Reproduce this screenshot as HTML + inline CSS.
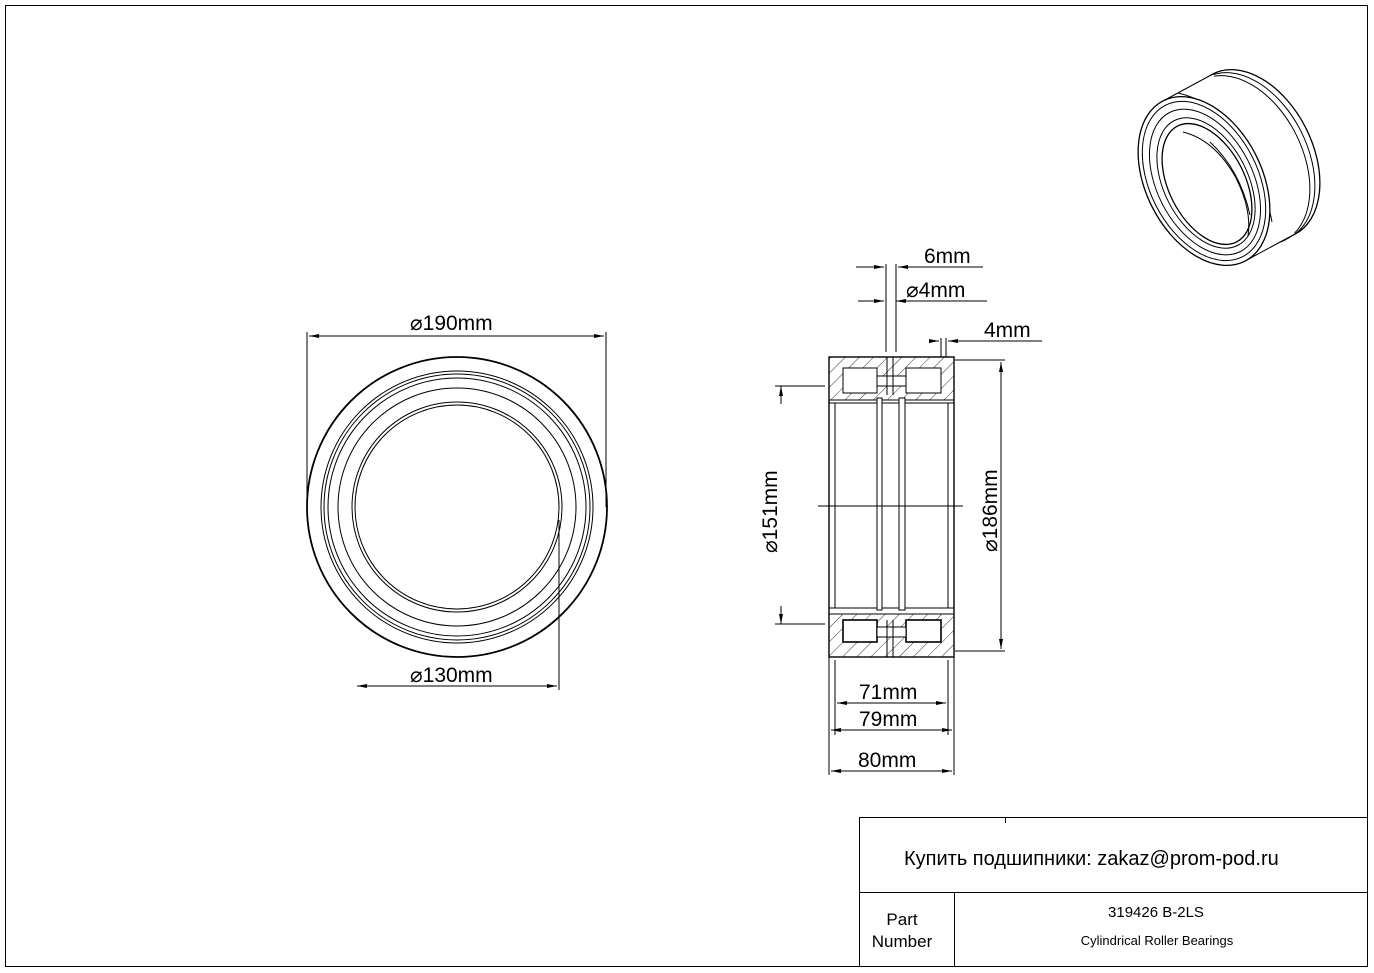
<!DOCTYPE html>
<html><head><style>body{margin:0;background:#fff}svg{display:block}text{font-family:"Liberation Sans",sans-serif;fill:#000}</style></head><body>
<svg width="1374" height="973" viewBox="0 0 1374 973" xmlns="http://www.w3.org/2000/svg">
<defs>
<pattern id="h" width="10" height="10" patternUnits="userSpaceOnUse" patternTransform="rotate(45)"><line x1="0" y1="0" x2="0" y2="10" stroke="#000" stroke-width="0.8"/></pattern>
<marker id="a" viewBox="0 0 10 4" refX="10" refY="2" markerWidth="10" markerHeight="4" orient="auto-start-reverse" markerUnits="userSpaceOnUse"><path d="M0,0L10,2L0,4z" fill="#000"/></marker>
</defs>
<g fill="none" stroke="#000" stroke-width="1">
<rect x="5.5" y="5.5" width="1362" height="961"/>
<rect x="859.5" y="817.5" width="508" height="149"/>
<line x1="859" y1="892.5" x2="1368" y2="892.5"/>
<line x1="954.5" y1="892" x2="954.5" y2="967"/>
<line x1="1005.5" y1="817" x2="1005.5" y2="823"/>

<!-- front view -->
<circle cx="457" cy="507" r="150" stroke-width="1.8"/>
<circle cx="457" cy="507" r="136"/>
<circle cx="457" cy="507" r="133"/>
<circle cx="457" cy="507" r="129"/>
<circle cx="457" cy="507" r="119"/>
<circle cx="457" cy="507" r="105"/>
<circle cx="457" cy="507" r="102"/>
<line x1="307" y1="332" x2="307" y2="507"/>
<line x1="606" y1="332" x2="606" y2="507"/>
<line x1="309" y1="336" x2="604" y2="336" marker-start="url(#a)" marker-end="url(#a)"/>
<line x1="559" y1="520" x2="559" y2="690"/>
<line x1="357" y1="686" x2="557" y2="686" marker-start="url(#a)" marker-end="url(#a)"/>

<!-- section -->
<rect x="829" y="357" width="125" height="43" fill="url(#h)"/>
<rect x="829" y="614" width="125" height="43" fill="url(#h)"/>
<rect x="829" y="357" width="125" height="300" stroke-width="1.4"/>
<line x1="829" y1="403" x2="954" y2="403"/>
<line x1="829" y1="608" x2="954" y2="608"/>
<line x1="835" y1="403" x2="835" y2="608"/>
<line x1="948" y1="403" x2="948" y2="608"/>
<rect x="843" y="368" width="34" height="25" fill="#fff"/>
<rect x="906" y="368" width="35" height="25" fill="#fff"/>
<rect x="843" y="620" width="34" height="22" fill="#fff" stroke-width="1.6"/>
<rect x="906" y="620" width="35" height="22" fill="#fff" stroke-width="1.6"/>
<rect x="877" y="376" width="29" height="10" fill="#fff"/>
<rect x="877" y="627" width="29" height="10" fill="#fff"/>
<rect x="877" y="398" width="5" height="212" fill="#fff"/>
<rect x="899" y="398" width="6" height="212" fill="#fff"/>
<line x1="887" y1="357" x2="887" y2="395"/><line x1="893" y1="357" x2="893" y2="395"/>
<line x1="887" y1="620" x2="887" y2="657"/><line x1="893" y1="620" x2="893" y2="657"/>
<line x1="818" y1="506" x2="963" y2="506"/>
<line x1="829" y1="657" x2="829" y2="775"/>
<line x1="954" y1="657" x2="954" y2="775"/>
<line x1="835" y1="660" x2="835" y2="735"/>
<line x1="948" y1="660" x2="948" y2="735"/>
<line x1="837" y1="703" x2="946" y2="703" marker-start="url(#a)" marker-end="url(#a)"/>
<line x1="831" y1="730" x2="952" y2="730" marker-start="url(#a)" marker-end="url(#a)"/>
<line x1="831" y1="771" x2="952" y2="771" marker-start="url(#a)" marker-end="url(#a)"/>
<line x1="775" y1="386" x2="825" y2="386"/>
<line x1="775" y1="624" x2="825" y2="624"/>
<line x1="781" y1="386" x2="781" y2="404" marker-start="url(#a)"/>
<line x1="781" y1="606" x2="781" y2="624" marker-end="url(#a)"/>
<line x1="955" y1="360" x2="1005" y2="360"/>
<line x1="955" y1="651" x2="1005" y2="651"/>
<line x1="1001" y1="362" x2="1001" y2="649" marker-start="url(#a)" marker-end="url(#a)"/>
<line x1="886" y1="264" x2="886" y2="352"/><line x1="896" y1="264" x2="896" y2="352"/>
<line x1="856" y1="267" x2="884" y2="267" marker-end="url(#a)"/>
<line x1="983" y1="267" x2="898" y2="267" marker-end="url(#a)"/>
<line x1="858" y1="301" x2="884" y2="301" marker-end="url(#a)"/>
<line x1="987" y1="301" x2="896" y2="301" marker-end="url(#a)"/>
<line x1="941" y1="338" x2="941" y2="357"/><line x1="946" y1="338" x2="946" y2="357"/>
<line x1="929" y1="341" x2="939" y2="341" marker-end="url(#a)"/>
<line x1="1042" y1="341" x2="948" y2="341" marker-end="url(#a)"/>

<!-- 3D -->
<ellipse cx="1254" cy="154" rx="90" ry="58" transform="rotate(63 1254 154)" stroke-width="1.3"/>
<ellipse cx="1249" cy="157" rx="90" ry="58" transform="rotate(63 1249 157)"/>
<ellipse cx="1244" cy="160" rx="90" ry="58" transform="rotate(63 1244 160)"/>
<path d="M1163,101 L1213,74 L1295,234 L1245,261 Z" fill="#fff" stroke="none"/>
<line x1="1163" y1="101" x2="1213" y2="74"/>
<line x1="1245" y1="261" x2="1295" y2="234"/>
<path d="M1178,93 Q1210,100 1234,130 Q1262,170 1272,222"/>
<ellipse cx="1204" cy="181" rx="90" ry="58" transform="rotate(63 1204 181)" fill="#fff" stroke-width="1.3"/>
<ellipse cx="1204" cy="181" rx="85" ry="54" transform="rotate(63 1204 181)"/>
<ellipse cx="1205" cy="182" rx="78" ry="48" transform="rotate(63 1205 182)"/>
<ellipse cx="1206" cy="183" rx="70" ry="42" transform="rotate(63 1206 183)"/>
<ellipse cx="1207" cy="184" rx="65" ry="38" transform="rotate(63 1207 184)" stroke-width="1.3"/>
<path d="M1183,132 Q1215,140 1236,178 Q1252,210 1248,236"/>
<path d="M1210,142 Q1240,170 1250,215"/>
</g>
<g font-size="21">
<text x="410" y="330">⌀190mm</text>
<text x="410" y="682">⌀130mm</text>
<text x="924" y="263">6mm</text>
<text x="906" y="297">⌀4mm</text>
<text x="984" y="337">4mm</text>
<text x="859" y="699">71mm</text>
<text x="859" y="726">79mm</text>
<text x="858" y="767">80mm</text>
<text transform="translate(777,553) rotate(-90)">⌀151mm</text>
<text transform="translate(997,552) rotate(-90)">⌀186mm</text>
</g>
<text x="904" y="865" font-size="20">Купить подшипники: zakaz@prom-pod.ru</text>
<text x="902" y="925" font-size="17" text-anchor="middle">Part</text>
<text x="902" y="947" font-size="17" text-anchor="middle">Number</text>
<text x="1156" y="917" font-size="15" text-anchor="middle">319426 B-2LS</text>
<text x="1157" y="945" font-size="13" text-anchor="middle">Cylindrical Roller Bearings</text>
</svg>
</body></html>
